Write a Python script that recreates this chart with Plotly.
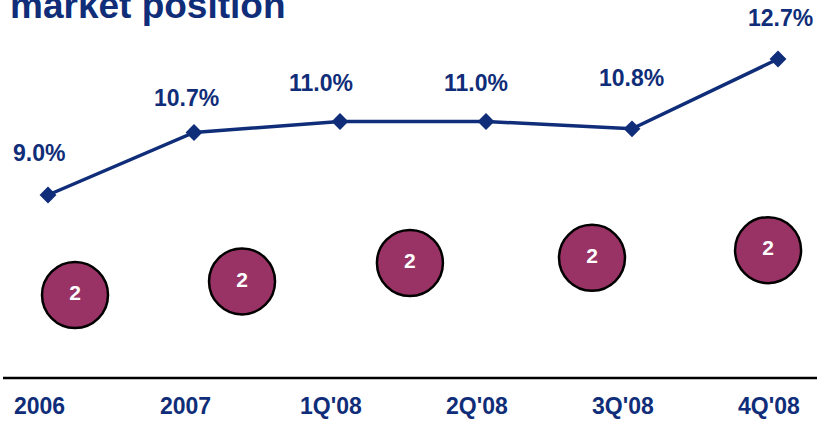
import plotly.graph_objects as go

# Market share by period
categories = ["2006", "2007", "1Q'08", "2Q'08", "3Q'08", "4Q'08"]
share_pct = [9.0, 10.7, 11.0, 11.0, 10.8, 12.7]

# Ranking badges shown beneath the share line
badge_rank = ["2", "2", "2", "2", "2"]

NAVY = "#0f2d78"
MAROON = "#993366"
FONT = "Liberation Sans, Arial, sans-serif"

W, H = 817, 421

# Layout helpers: badge placement (axis units) and label nudges (pixels)
badge_x = [0.185, 1.329, 2.479, 3.726, 4.932]
badge_y = [6.28, 6.65, 7.15, 7.29, 7.50]
label_dx = [-9, -8, -19, -10, -1, 2]
label_dy = [42, 35, 38, 38, 51, 41]

idx = list(range(len(categories)))

fig = go.Figure()

fig.add_trace(go.Scatter(
    x=idx, y=share_pct, mode="lines+markers",
    line=dict(color=NAVY, width=3.5),
    marker=dict(symbol="diamond", size=13, color=NAVY),
    hoverinfo="skip", showlegend=False,
))

fig.add_trace(go.Scatter(
    x=badge_x, y=badge_y, mode="markers+text",
    marker=dict(size=66, color=MAROON, line=dict(color="#000000", width=2.5)),
    text=badge_rank, textposition="middle center",
    textfont=dict(family=FONT, size=21, color="white", weight="bold"),
    hoverinfo="skip", showlegend=False,
))

annotations = []
for i, (v, dx, dy) in enumerate(zip(share_pct, label_dx, label_dy)):
    annotations.append(dict(
        x=i, y=v, xref="x", yref="y", text=f"<b>{v:.1f}%</b>",
        showarrow=False, xshift=dx, yshift=dy,
        font=dict(family=FONT, size=23, color=NAVY),
        xanchor="center", yanchor="middle",
    ))

for i, c in enumerate(categories):
    annotations.append(dict(
        x=i, y=1 - 406 / H, xref="x", yref="paper", text=f"<b>{c}</b>",
        showarrow=False, xshift=-9,
        font=dict(family=FONT, size=23, color=NAVY),
        xanchor="center", yanchor="middle",
    ))

annotations.append(dict(
    x=8 / W, y=1, xref="paper", yref="paper", text="<b>market position</b>",
    showarrow=False, xanchor="left", yanchor="top", yshift=17,
    font=dict(family=FONT, size=37, color=NAVY),
))

fig.update_layout(
    width=W, height=H, autosize=False,
    margin=dict(l=0, r=0, t=0, b=0),
    paper_bgcolor="white", plot_bgcolor="white",
    xaxis=dict(range=[-48 / 146, 5 + 39 / 146], visible=False, fixedrange=True),
    yaxis=dict(range=[9 - 226 / 36.76, 9 + 195 / 36.76], visible=False, fixedrange=True),
    annotations=annotations,
    shapes=[dict(type="line", xref="paper", yref="paper",
                 x0=3 / W, x1=1, y0=1 - 378 / H, y1=1 - 378 / H,
                 line=dict(color="black", width=2.5))],
)

fig.write_html("out.html")
